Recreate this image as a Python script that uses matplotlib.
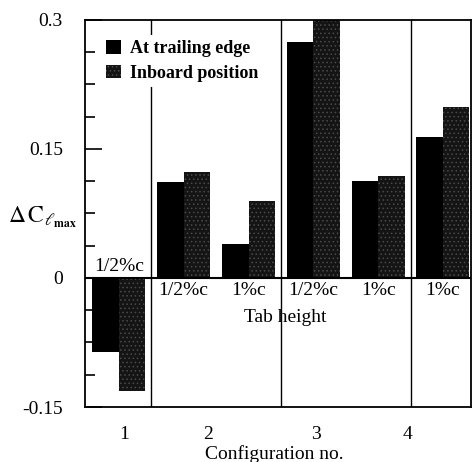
import numpy as np
import matplotlib
matplotlib.use("Agg")
import matplotlib.pyplot as plt
from matplotlib.ticker import MultipleLocator
from matplotlib.patches import Patch

plt.rcParams['font.family'] = ['Liberation Serif', 'DejaVu Serif']
plt.rcParams['mathtext.fontset'] = 'stix'
plt.rcParams['hatch.linewidth'] = 0.6

# Data (one bar pair per tab height, grouped by configuration)
tab_heights = ['1/2%c', '1/2%c', '1%c', '1/2%c', '1%c', '1%c']
trailing_edge = [-0.086, 0.112, 0.040, 0.274, 0.113, 0.164]
inboard_position = [-0.131, 0.123, 0.090, 0.320, 0.119, 0.199]
config_labels = ['1', '2', '3', '4']
config_label_pos = [0.08, 1.37, 3.04, 4.45]
config_dividers = [0.5, 2.5, 4.5]

x = np.arange(len(tab_heights))
w = 0.408
hatch_col = '#4a4a4a'

fig = plt.figure(figsize=(4.76, 4.62), dpi=100)
ax = fig.add_axes([0.179, 0.119, 0.810, 0.838])

ax.bar(x - w / 2, trailing_edge, w, color='black', linewidth=0)
ax.bar(x + w / 2, inboard_position, w, color='#141414', hatch='....',
       edgecolor=hatch_col, linewidth=0)

ax.axhline(0, color='black', lw=1.5, zorder=3)
for d in config_dividers:
    ax.axvline(d, color='black', lw=1.0, zorder=0)

# tab height labels
for xi, lab, v in zip(x, tab_heights, trailing_edge):
    if v < 0:
        ax.text(xi, 0.004, lab, ha='center', va='bottom', fontsize=14)
    else:
        ax.text(xi, -0.005, lab, ha='center', va='top', fontsize=14)
ax.text(2.56, -0.046, 'Tab height', ha='center', va='center', fontsize=14)

ax.set_xlim(-0.52, 5.43)
ax.set_ylim(-0.15, 0.3)
ax.set_yticks([-0.15, 0, 0.15, 0.3])
ax.set_yticklabels(['-0.15', '0', '0.15', '0.3'])
ax.yaxis.set_minor_locator(MultipleLocator(0.0375))
ax.tick_params(axis='y', which='major', direction='in', length=12, width=1.2,
               labelsize=14, pad=16)
ax.tick_params(axis='y', which='minor', direction='in', length=7, width=1.2)
ax.set_xticks(config_label_pos)
ax.set_xticklabels(config_labels)
ax.tick_params(axis='x', length=0, labelsize=14, pad=14)
for s in ax.spines.values():
    s.set_linewidth(1.3)

ax.set_xlabel('Configuration no.', fontsize=14)
ax.xaxis.set_label_coords(0.49, -0.098)
ax.set_ylabel(r'$\Delta\,\mathrm{C}_{\ell_{\mathbf{max}}}$', fontsize=17,
              rotation=0, va='center', ha='center')
ax.yaxis.set_label_coords(-0.11, 0.49)

handles = [Patch(facecolor='black', linewidth=0),
           Patch(facecolor='#141414', hatch='....', edgecolor=hatch_col,
                 linewidth=0)]
leg = ax.legend(handles, ['At trailing edge', 'Inboard position'],
                loc='upper left', bbox_to_anchor=(0.017, 0.985),
                frameon=True, facecolor='white', edgecolor='none',
                framealpha=1, fancybox=False, borderpad=0.3,
                handlelength=0.8, handleheight=0.8, handletextpad=0.5,
                labelspacing=0.4, prop={'size': 13, 'weight': 'bold'})
leg.set_zorder(5)

fig.savefig('out.png', dpi=100)
